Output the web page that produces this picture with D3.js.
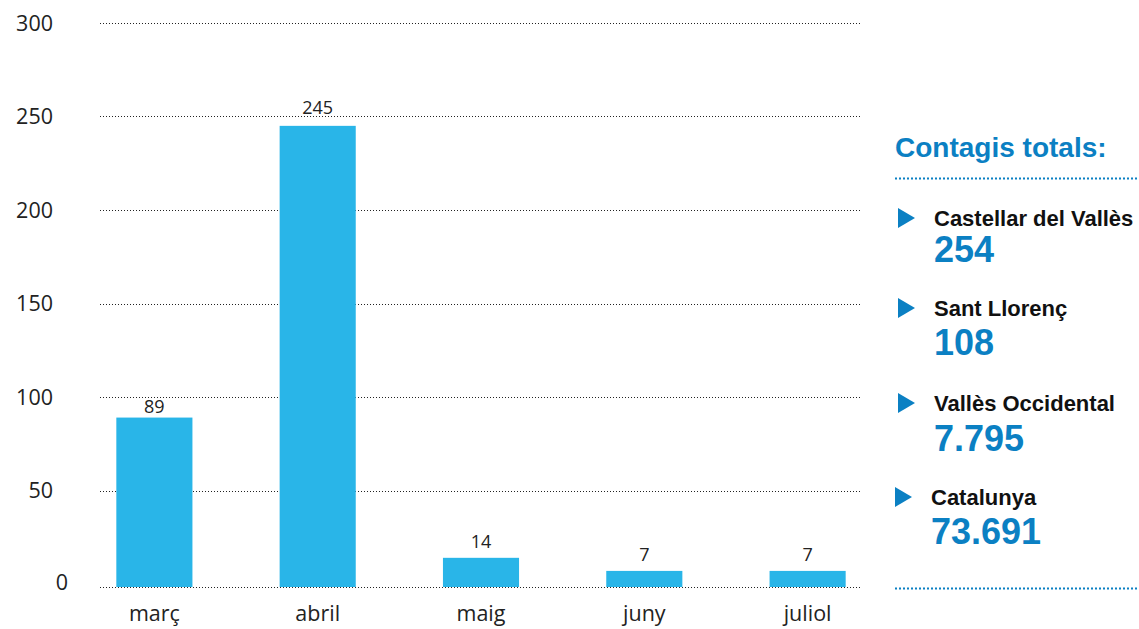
<!doctype html>
<html lang="ca">
<head>
  <meta charset="utf-8">
  <title>Contagis per mes</title>
  <style>
    html, body { margin: 0; padding: 0; background: white; }
    svg { display: block; }
    .tick-label { font-family: "Open Sans", sans-serif; font-size: 21.5px; fill: #222; }
    .val { font-family: "Open Sans", sans-serif; font-size: 18px; fill: #222; }
    .panel-title { font-family: "Liberation Sans", sans-serif; font-weight: 700; font-size: 28px; fill: #0b80c3; }
    .panel-name { font-family: "Liberation Sans", sans-serif; font-weight: 700; font-size: 22px; fill: #111; }
    .panel-num { font-family: "Liberation Sans", sans-serif; font-weight: 700; font-size: 36px; fill: #0b80c3; }
  </style>
</head>
<body>
<svg id="chart" width="1139" height="629"></svg>
<script src="https://d3js.org/d3.v7.min.js"></script>
<script>
  // data
  const months = ["març", "abril", "maig", "juny", "juliol"];
  const cases = [89, 245, 14, 7, 7];
  const yTicks = [0, 50, 100, 150, 200, 250, 300];
  const places = ["Castellar del Vallès", "Sant Llorenç", "Vallès Occidental", "Catalunya"];
  const totals = ["254", "108", "7.795", "73.691"];

  const svg = d3.select("#chart");
  const barColor = "#29b5e8";
  const blue = "#0b80c3";
  const baseY = 587; // dotted baseline sits a little under the zero of the scale

  const x = d3.scaleBand()
    .domain(months)
    .range([100, 862])
    .paddingInner(0.534)
    .paddingOuter(0.1);

  const y = d3.scaleLinear()
    .domain([0, 300])
    .range([584, 23]);

  const gridY = d => d === 0 ? baseY : Math.round(y(d));

  // dotted grid
  svg.append("g").selectAll("line")
    .data(yTicks)
    .enter().append("line")
    .attr("x1", 100)
    .attr("x2", 862)
    .attr("y1", d => gridY(d) + 0.5)
    .attr("y2", d => gridY(d) + 0.5)
    .attr("stroke", "#222")
    .attr("stroke-width", 1)
    .attr("stroke-dasharray", "1,2");

  // y labels
  svg.append("g").selectAll("text")
    .data(yTicks)
    .enter().append("text")
    .attr("class", "tick-label")
    .attr("x", d => d === 0 ? 68 : 53)
    .attr("y", d => d === 0 ? y(d) - 2 : y(d))
    .attr("dy", "0.35em")
    .attr("text-anchor", "end")
    .text(d => d);

  // bars
  svg.append("g").selectAll("rect")
    .data(cases)
    .enter().append("rect")
    .attr("x", (d, i) => x(months[i]))
    .attr("y", d => y(d))
    .attr("width", x.bandwidth())
    .attr("height", d => baseY - y(d))
    .attr("fill", barColor);

  // value label baseline, nudged off any grid line it would sit on
  function labelY(d) {
    let b = y(d) - 10;
    const t = b - 13;
    yTicks.slice(1).forEach(v => {
      const g = gridY(v) + 0.5;
      if (g > t - 2 && g < b + 2) {
        if (g - t < b - g) b = Math.min(g + 15, y(d) - 4);
        else b = g - 3;
      }
    });
    return b;
  }

  svg.append("g").selectAll("text")
    .data(cases)
    .enter().append("text")
    .attr("class", "val")
    .attr("x", (d, i) => x(months[i]) + x.bandwidth() / 2)
    .attr("y", d => labelY(d))
    .attr("text-anchor", "middle")
    .text(d => d);

  // month labels
  svg.append("g").selectAll("text")
    .data(months)
    .enter().append("text")
    .attr("class", "tick-label")
    .attr("x", d => x(d) + x.bandwidth() / 2)
    .attr("y", 621)
    .attr("text-anchor", "middle")
    .text(d => d);

  // right panel
  const panel = svg.append("g");
  panel.append("text")
    .attr("class", "panel-title")
    .attr("x", 895)
    .attr("y", 157)
    .text("Contagis totals:");

  [178.5, 588.5].forEach(yy => {
    panel.append("line")
      .attr("x1", 895).attr("x2", 1139)
      .attr("y1", yy).attr("y2", yy)
      .attr("stroke", blue)
      .attr("stroke-width", 2)
      .attr("stroke-dasharray", "2,2");
  });

  const rowY = [218, 308, 403, 497];
  const numY = [262, 355, 451, 544];
  const rowX = [934, 934, 934, 931];
  const triX = [898, 898, 898, 895];

  const rows = panel.selectAll("g.row")
    .data(places)
    .enter().append("g")
    .attr("class", "row");

  rows.append("path")
    .attr("d", (d, i) => `M${triX[i]},${rowY[i] - 10} L${triX[i] + 17},${rowY[i]} L${triX[i]},${rowY[i] + 10} Z`)
    .attr("fill", blue);

  rows.append("text")
    .attr("class", "panel-name")
    .attr("x", (d, i) => rowX[i])
    .attr("y", (d, i) => rowY[i])
    .attr("dy", "0.35em")
    .text(d => d);

  rows.append("text")
    .attr("class", "panel-num")
    .attr("x", (d, i) => rowX[i])
    .attr("y", (d, i) => numY[i])
    .text((d, i) => totals[i]);
</script>
</body>
</html>
